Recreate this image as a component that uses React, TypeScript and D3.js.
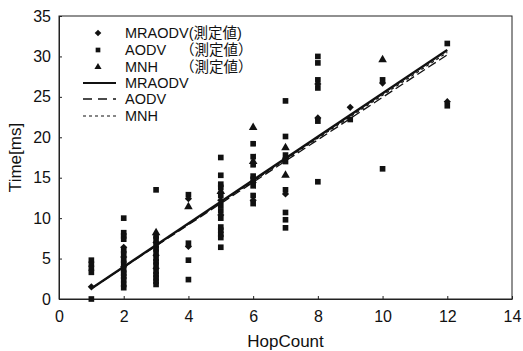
import React, { useEffect, useRef } from "react";
import * as d3 from "d3";

// measured points [hopCount, time ms]
const mraodvPts: [number, number][] = [
  [1, 1.5], [2, 6.4], [2, 5.2], [2, 4.0], [3, 7.0], [3, 5.4], [3, 3.8],
  [4, 6.5], [4, 12.4], [5, 12.2], [5, 10.4], [6, 14.4], [6, 12.2],
  [7, 17.4], [7, 13.0], [8, 22.4], [8, 26.6], [9, 23.7], [10, 26.7], [12, 24.4],
];
const aodvPts: [number, number][] = [
  [1, 4.8], [1, 4.3], [1, 3.8], [1, 3.3], [1, 0],
  [2, 10.0], [2, 8.2], [2, 7.8], [2, 7.4], [2, 6.0], [2, 5.6], [2, 4.8], [2, 4.4],
  [2, 3.6], [2, 3.2], [2, 2.8], [2, 2.4], [2, 1.8], [2, 1.4],
  [3, 13.5], [3, 7.8], [3, 7.4], [3, 6.6], [3, 6.2], [3, 5.8], [3, 5.0], [3, 4.6],
  [3, 4.2], [3, 3.4], [3, 3.0], [3, 2.6], [3, 2.2], [3, 1.8],
  [4, 12.9], [4, 6.9], [4, 4.8], [4, 2.4],
  [5, 17.5], [5, 15.3], [5, 14.2], [5, 13.8], [5, 12.8], [5, 11.6], [5, 10.9],
  [5, 10.0], [5, 8.9], [5, 8.5], [5, 8.0], [5, 7.6], [5, 6.4],
  [6, 19.2], [6, 17.6], [6, 16.6], [6, 15.2], [6, 14.8], [6, 14.0], [6, 12.8], [6, 11.8],
  [7, 24.5], [7, 20.1], [7, 17.8], [7, 17.0], [7, 13.5], [7, 10.7], [7, 9.8], [7, 8.8],
  [8, 30.0], [8, 29.2], [8, 27.1], [8, 26.1], [8, 22.0], [8, 14.5],
  [9, 22.2], [10, 27.1], [10, 16.1], [12, 31.6], [12, 23.9],
];
const mnhPts: [number, number][] = [
  [3, 8.2], [4, 11.4], [5, 13.3], [6, 21.2], [6, 17.0], [7, 18.7], [7, 15.3], [10, 29.6],
];

// fitted lines, endpoints [hopCount, time]
const mraodvFit: [number, number][] = [[1, 1.3], [12, 30.8]];
const aodvFit: [number, number][] = [[1, 1.3], [12, 30.2]];
const mnhFit: [number, number][] = [[1, 1.3], [12, 30.5]];

const xTicks = [0, 2, 4, 6, 8, 10, 12, 14];
const yTicks = [0, 5, 10, 15, 20, 25, 30, 35];

const W = 523, H = 351;
const margin = { top: 16, right: 11, bottom: 52, left: 59 };
const FONT = "'Liberation Sans', 'Noto Sans CJK JP', sans-serif";

const App = () => {
  const svgRef = useRef<SVGSVGElement>(null);

  useEffect(() => {
    const svg = d3.select(svgRef.current);
    svg.selectAll("*").remove();

    const x = d3.scaleLinear().domain([0, 14]).range([margin.left, W - margin.right]);
    const y = d3.scaleLinear().domain([0, 35]).range([H - margin.bottom, margin.top]);

    // frame
    svg.append("rect")
      .attr("x", x(0)).attr("y", y(35))
      .attr("width", x(14) - x(0)).attr("height", y(0) - y(35))
      .attr("fill", "none").attr("stroke", "#222").attr("stroke-width", 1);

    // axes with inward ticks
    const xAxis = svg.append("g")
      .attr("transform", `translate(0,${y(0)})`)
      .call(d3.axisBottom(x).tickValues(xTicks).tickSizeInner(-3).tickSizeOuter(0).tickPadding(12));
    const yAxis = svg.append("g")
      .attr("transform", `translate(${x(0)},0)`)
      .call(d3.axisLeft(y).tickValues(yTicks).tickSizeInner(-3).tickSizeOuter(0).tickPadding(8));
    [xAxis, yAxis].forEach((g) => {
      g.select(".domain").attr("stroke", "#222");
      g.selectAll(".tick line").attr("stroke", "#222");
      g.selectAll(".tick text")
        .attr("font-family", FONT).attr("font-size", 16).attr("fill", "#111");
    });

    svg.append("text")
      .attr("x", (x(0) + x(14)) / 2).attr("y", 347)
      .attr("text-anchor", "middle")
      .attr("font-family", FONT).attr("font-size", 17).attr("fill", "#111")
      .text("HopCount");
    svg.append("text")
      .attr("transform", `translate(21,${(y(0) + y(35)) / 2}) rotate(-90)`)
      .attr("text-anchor", "middle")
      .attr("font-family", FONT).attr("font-size", 17).attr("fill", "#111")
      .text("Time[ms]");

    // fitted lines
    const line = d3.line<[number, number]>().x((d) => x(d[0])).y((d) => y(d[1]));
    const fits = [
      { data: aodvFit, dash: "9,4", width: 1.3 },
      { data: mnhFit, dash: "3,3", width: 1.2 },
      { data: mraodvFit, dash: null, width: 2.4 },
    ];
    fits.forEach((f) => {
      svg.append("path")
        .attr("d", line(f.data))
        .attr("fill", "none").attr("stroke", "#111")
        .attr("stroke-width", f.width)
        .attr("stroke-dasharray", f.dash);
    });

    // measured markers (diamond = square turned 45deg)
    const series = [
      { data: aodvPts, sym: d3.symbolSquare, size: 32, rot: 0 },
      { data: mraodvPts, sym: d3.symbolSquare, size: 26, rot: 45 },
      { data: mnhPts, sym: d3.symbolTriangle, size: 32, rot: 0 },
    ];
    series.forEach((s) => {
      svg.append("g").selectAll("path")
        .data(s.data)
        .join("path")
        .attr("transform", (d) => `translate(${x(d[0])},${y(d[1])}) rotate(${s.rot})`)
        .attr("d", d3.symbol().type(s.sym).size(s.size)())
        .attr("fill", "#111");
    });

    // legend
    const lg = svg.append("g").attr("font-family", FONT).attr("font-size", 14.5).attr("fill", "#111");
    const rowY = [33, 50, 67, 83, 99, 116];
    const syms = [
      { sym: d3.symbolSquare, rot: 45 },
      { sym: d3.symbolSquare, rot: 0 },
      { sym: d3.symbolTriangle, rot: 0 },
    ];
    syms.forEach((s, i) => {
      lg.append("path")
        .attr("transform", `translate(98,${rowY[i]}) rotate(${s.rot})`)
        .attr("d", d3.symbol().type(s.sym).size(22)())
        .attr("fill", "#111");
    });
    lg.append("text").attr("x", 125).attr("y", rowY[0] + 5).text("MRAODV(測定値)");
    lg.append("text").attr("x", 125).attr("y", rowY[1] + 5).text("AODV");
    lg.append("text").attr("x", 180).attr("y", rowY[1] + 5).text("（測定値）");
    lg.append("text").attr("x", 125).attr("y", rowY[2] + 5).text("MNH");
    lg.append("text").attr("x", 180).attr("y", rowY[2] + 5).text("（測定値）");
    const lineRows = [
      { label: "MRAODV", dash: null, width: 2.2 },
      { label: "AODV", dash: "9,6", width: 1.3 },
      { label: "MNH", dash: "3,3", width: 1.2 },
    ];
    lineRows.forEach((r, i) => {
      const ry = rowY[i + 3];
      lg.append("line")
        .attr("x1", 83).attr("x2", 116).attr("y1", ry).attr("y2", ry)
        .attr("stroke", "#111").attr("stroke-width", r.width)
        .attr("stroke-dasharray", r.dash);
      lg.append("text").attr("x", 125).attr("y", ry + 5).text(r.label);
    });
  }, []);

  return (
    <svg
      ref={svgRef}
      width={W}
      height={H}
      style={{ position: "absolute", left: 0, top: 0, background: "#fff" }}
    />
  );
};

export default App;
